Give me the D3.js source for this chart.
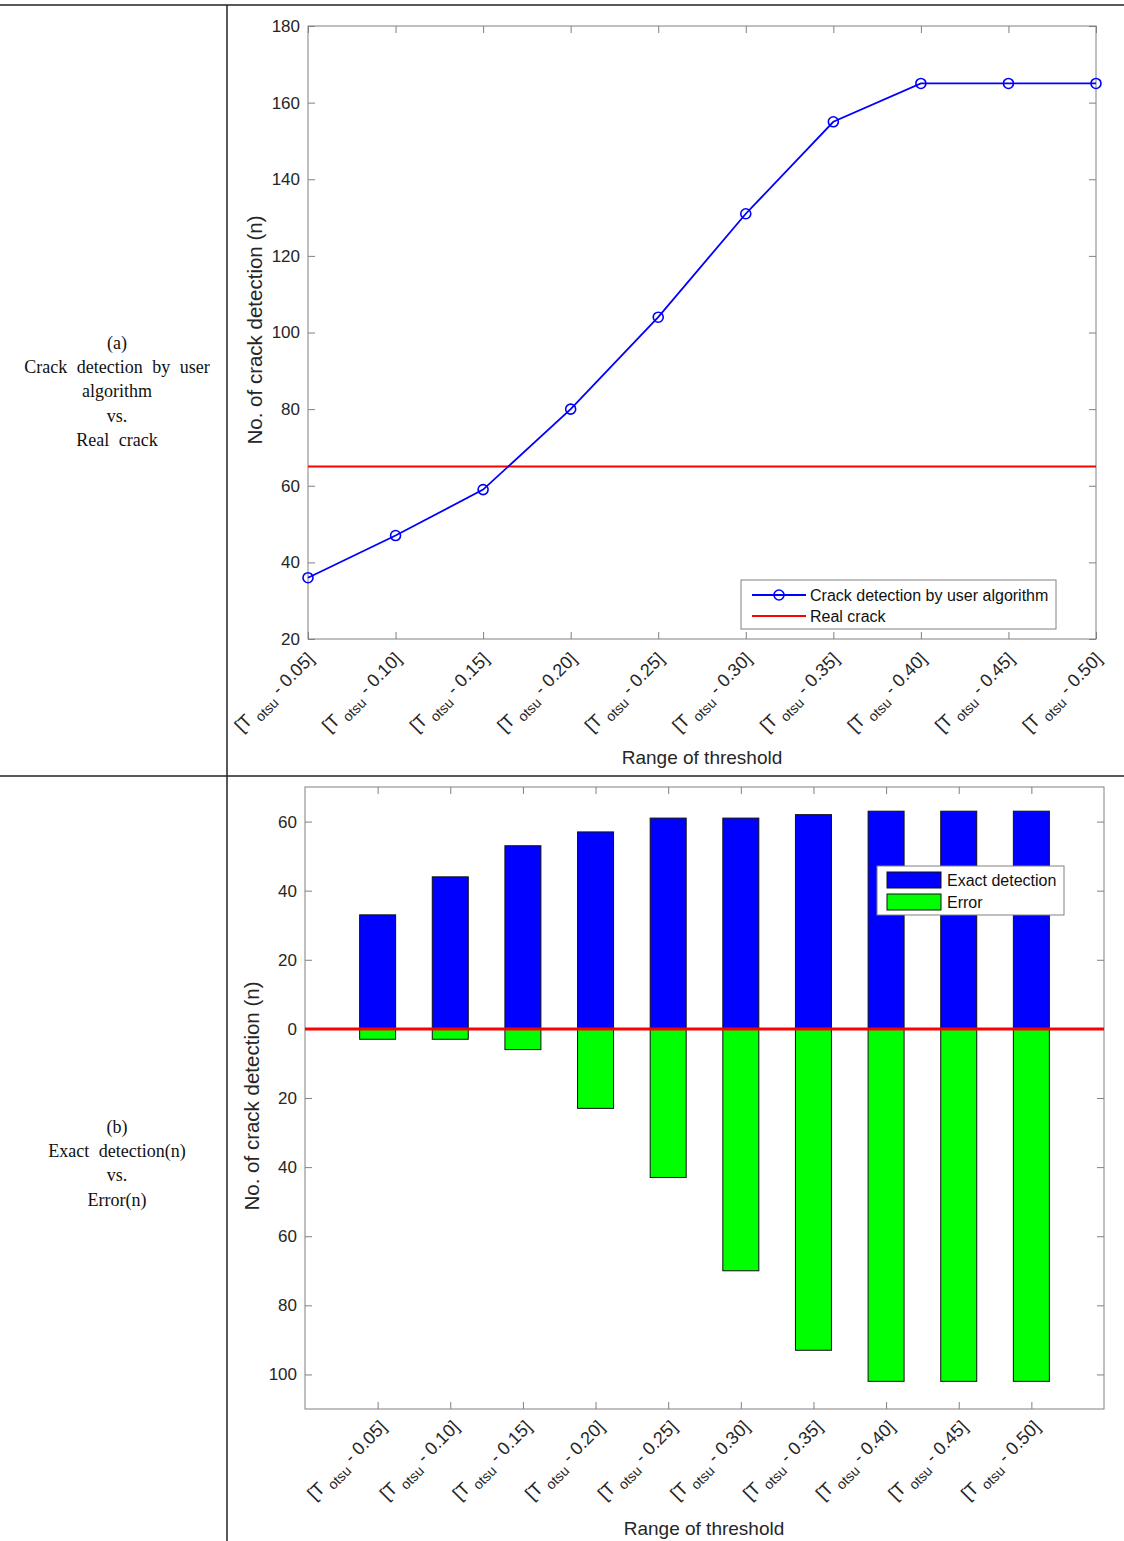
<!DOCTYPE html>
<html>
<head>
<meta charset="utf-8">
<script src="https://cdn.jsdelivr.net/npm/d3@7"></script>
<style>
  body { margin: 0; background: #fff; }
  .axis text { font-family: "Liberation Sans", Arial, sans-serif; font-size: 17px; fill: #262626; }
  .axis path, .axis line { stroke: #808080; }
  .cap { font-family: "Liberation Serif", "Times New Roman", serif; font-size: 18px; fill: #111; word-spacing: 5px; }
  .lbl { font-family: "Liberation Sans", Arial, sans-serif; font-size: 19px; fill: #262626; }
  .ylbl { font-family: "Liberation Sans", Arial, sans-serif; font-size: 20.5px; fill: #262626; }
  .leg { font-family: "Liberation Sans", Arial, sans-serif; font-size: 16px; fill: #111; }
</style>
</head>
<body>
<script>
// threshold ranges (shared by both charts)
let offsets = ['0.05', '0.10', '0.15', '0.20', '0.25', '0.30', '0.35', '0.40', '0.45', '0.50'];
// (a) crack detection count for each range
let detected = [36, 47, 59, 80, 104, 131, 155, 165, 165, 165];
let realCrack = 65;
let yTicksA = [20, 40, 60, 80, 100, 120, 140, 160, 180];
// (b) exact detections and errors
let exact = [33, 44, 53, 57, 61, 61, 62, 63, 63, 63];
let errors = [3, 3, 6, 23, 43, 70, 93, 102, 102, 102];
let yTicksB = [-100, -80, -60, -40, -20, 0, 20, 40, 60];

let W = 1124, H = 1541;
let svg = d3.select('body').append('svg').attr('width', W).attr('height', H);

// table frame
svg.append('line').attr('x1', 0).attr('x2', W).attr('y1', 5).attr('y2', 5).attr('stroke', '#222').attr('stroke-width', 1.5);
svg.append('line').attr('x1', 0).attr('x2', W).attr('y1', 776).attr('y2', 776).attr('stroke', '#222').attr('stroke-width', 1.5);
svg.append('line').attr('x1', 227).attr('x2', 227).attr('y1', 5).attr('y2', H).attr('stroke', '#222').attr('stroke-width', 1.5);

function caption(lines, y0) {
  let t = svg.append('text').attr('class', 'cap').attr('text-anchor', 'middle');
  lines.forEach(function(s, i) {
    t.append('tspan').attr('x', 117).attr('y', y0 + i * 24.2).text(s);
  });
}
caption(['(a)', 'Crack detection by user', 'algorithm', 'vs.', 'Real crack'], 349);
caption(['(b)', 'Exact detection(n)', 'vs.', 'Error(n)'], 1133);

// rotated "[T otsu - x]" tick labels
function tickLabels(g, x, y0, dx, dy) {
  offsets.forEach(function(o, i) {
    let t = g.append('text')
      .attr('transform', 'translate(' + (x(i + 1) + dx) + ',' + (y0 + dy) + ') rotate(-45)')
      .attr('text-anchor', 'end')
      .attr('font-family', '"Liberation Sans", Arial, sans-serif')
      .attr('font-size', 18).attr('fill', '#262626');
    t.append('tspan').text('[T ');
    t.append('tspan').attr('font-size', 14).attr('dy', 6).text('otsu');
    t.append('tspan').attr('dy', -6).text(' - ' + o + ']');
  });
}

// draw a boxed MATLAB-ish axes with inward ticks
function box(g, x, y, xt, yt, fmt) {
  let [x0, x1] = x.range(), [y1, y0] = y.range();
  g.append('rect').attr('x', x0).attr('y', y0).attr('width', x1 - x0).attr('height', y1 - y0)
    .attr('fill', 'none').attr('stroke', '#808080');
  g.append('g').attr('class', 'axis').attr('transform', 'translate(' + x0 + ',0)')
    .call(d3.axisLeft(y).tickValues(yt).tickSize(-7).tickPadding(8).tickFormat(fmt))
    .call(s => s.select('.domain').remove());
  g.append('g').attr('class', 'axis').attr('transform', 'translate(' + x1 + ',0)')
    .call(d3.axisRight(y).tickValues(yt).tickSize(-7).tickFormat(''))
    .call(s => s.select('.domain').remove());
  g.append('g').attr('class', 'axis').attr('transform', 'translate(0,' + y1 + ')')
    .call(d3.axisBottom(x).tickValues(xt).tickSize(-7).tickFormat(''))
    .call(s => s.select('.domain').remove());
  g.append('g').attr('class', 'axis').attr('transform', 'translate(0,' + y0 + ')')
    .call(d3.axisTop(x).tickValues(xt).tickSize(-7).tickFormat(''))
    .call(s => s.select('.domain').remove());
}

let idx = d3.range(1, 11);

// ---------- chart (a) ----------
let gA = svg.append('g');
let xA = d3.scaleLinear().domain([1, 10]).range([308, 1096]);
let yA = d3.scaleLinear().domain([20, 180]).range([639, 26]);
box(gA, xA, yA, idx, yTicksA, d3.format('d'));

gA.append('line').attr('x1', xA(1)).attr('x2', xA(10))
  .attr('y1', yA(realCrack)).attr('y2', yA(realCrack))
  .attr('stroke', '#ff0000').attr('stroke-width', 2);

gA.append('path').datum(detected)
  .attr('fill', 'none').attr('stroke', '#0000ff').attr('stroke-width', 1.8)
  .attr('d', d3.line().x((d, i) => xA(i + 1)).y(d => yA(d)));
gA.selectAll('circle.pt').data(detected).join('circle')
  .attr('cx', (d, i) => xA(i + 1)).attr('cy', d => yA(d)).attr('r', 5)
  .attr('fill', 'none').attr('stroke', '#0000ff').attr('stroke-width', 1.6);

tickLabels(gA, xA, 639, 7, 21);
gA.append('text').attr('class', 'lbl').attr('text-anchor', 'middle')
  .attr('x', 702).attr('y', 764).text('Range of threshold');
gA.append('text').attr('class', 'ylbl').attr('text-anchor', 'middle')
  .attr('transform', 'translate(262,330) rotate(-90)').text('No. of crack detection (n)');

// legend (a)
let lgA = gA.append('g');
lgA.append('rect').attr('x', 741).attr('y', 580).attr('width', 315).attr('height', 49)
  .attr('fill', '#fff').attr('stroke', '#808080');
lgA.append('line').attr('x1', 752).attr('x2', 806).attr('y1', 595).attr('y2', 595)
  .attr('stroke', '#0000ff').attr('stroke-width', 1.8);
lgA.append('circle').attr('cx', 779).attr('cy', 595).attr('r', 5)
  .attr('fill', 'none').attr('stroke', '#0000ff').attr('stroke-width', 1.6);
lgA.append('line').attr('x1', 752).attr('x2', 806).attr('y1', 616).attr('y2', 616)
  .attr('stroke', '#ff0000').attr('stroke-width', 2);
lgA.append('text').attr('class', 'leg').attr('x', 810).attr('y', 601).text('Crack detection by user algorithm');
lgA.append('text').attr('class', 'leg').attr('x', 810).attr('y', 622).text('Real crack');

// ---------- chart (b) ----------
let gB = svg.append('g');
let xB = d3.scaleLinear().domain([0, 11]).range([305, 1104]);
let yB = d3.scaleLinear().domain([-110, 70]).range([1409, 787]);
box(gB, xB, yB, idx, yTicksB, d => Math.abs(d));

let bw = 36;
gB.selectAll('rect.ex').data(exact).join('rect')
  .attr('x', (d, i) => xB(i + 1) - bw / 2).attr('y', d => yB(d))
  .attr('width', bw).attr('height', d => yB(0) - yB(d))
  .attr('fill', '#0000ff').attr('stroke', '#111').attr('stroke-width', 1);
gB.selectAll('rect.er').data(errors).join('rect')
  .attr('x', (d, i) => xB(i + 1) - bw / 2).attr('y', yB(0))
  .attr('width', bw).attr('height', d => yB(-d) - yB(0))
  .attr('fill', '#00ff00').attr('stroke', '#111').attr('stroke-width', 1);

gB.append('line').attr('x1', xB(0)).attr('x2', xB(11))
  .attr('y1', yB(0)).attr('y2', yB(0))
  .attr('stroke', '#ff0000').attr('stroke-width', 3);

tickLabels(gB, xB, 1409, 10, 19);
gB.append('text').attr('class', 'lbl').attr('text-anchor', 'middle')
  .attr('x', 704).attr('y', 1535).text('Range of threshold');
gB.append('text').attr('class', 'ylbl').attr('text-anchor', 'middle')
  .attr('transform', 'translate(259,1096) rotate(-90)').text('No. of crack detection (n)');

// legend (b)
let lgB = gB.append('g');
lgB.append('rect').attr('x', 877).attr('y', 866).attr('width', 187).attr('height', 49)
  .attr('fill', '#fff').attr('stroke', '#808080');
lgB.append('rect').attr('x', 887).attr('y', 872).attr('width', 54).attr('height', 16)
  .attr('fill', '#0000ff').attr('stroke', '#111');
lgB.append('rect').attr('x', 887).attr('y', 894).attr('width', 54).attr('height', 16)
  .attr('fill', '#00ff00').attr('stroke', '#111');
lgB.append('text').attr('class', 'leg').attr('x', 947).attr('y', 886).text('Exact detection');
lgB.append('text').attr('class', 'leg').attr('x', 947).attr('y', 908).text('Error');
</script>
</body>
</html>
